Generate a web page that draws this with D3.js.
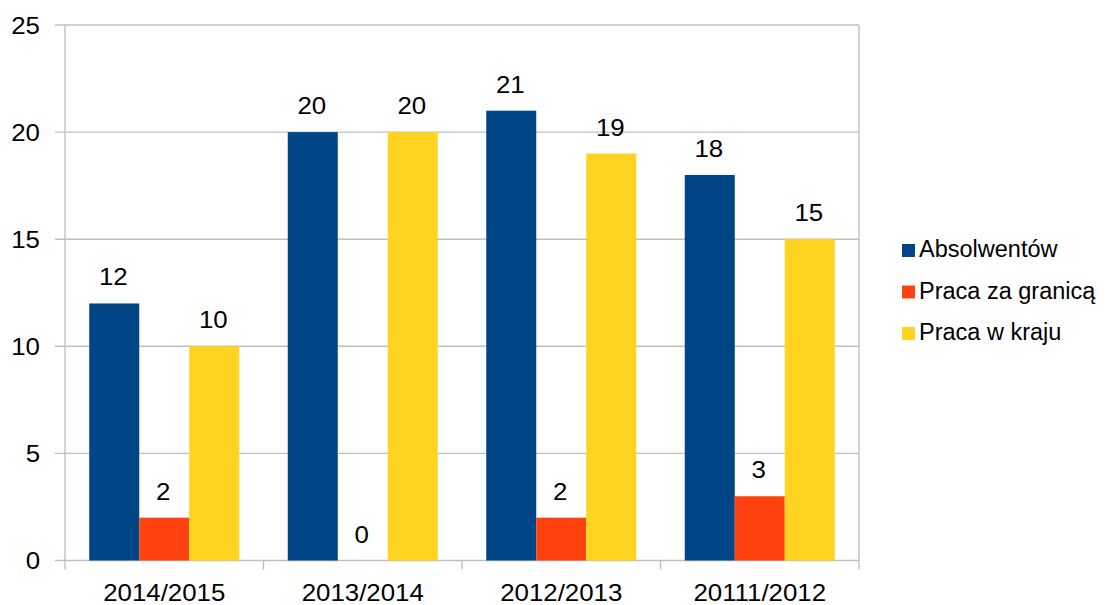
<!DOCTYPE html>
<html lang="pl">
<head>
<meta charset="UTF-8">
<title>Absolwenci</title>
<script src="https://d3js.org/d3.v7.min.js"></script>
<style>
  body { margin: 0; background: #fff; }
  text { font-family: "Liberation Sans", Arial, sans-serif; fill: #000; }
</style>
</head>
<body>
<div id="chart"></div>
<script>
// data
var years = ["2014/2015", "2013/2014", "2012/2013", "20111/2012"];
var seriesNames = ["Absolwentów", "Praca za granicą", "Praca w kraju"];
var absolwentow = [12, 20, 21, 18];
var zaGranica = [2, 0, 2, 3];
var wKraju = [10, 20, 19, 15];
var yTicks = [0, 5, 10, 15, 20, 25];
var colors = ["#004586", "#ff420e", "#ffd320"];

var seriesValues = [absolwentow, zaGranica, wKraju];
var W = 1105, H = 605;
var plot = {left: 65, right: 859, top: 25, bottom: 560.5};
var stretch = 1.1; // text in the picture is a bit wide

var svg = d3.select("#chart").append("svg")
    .attr("width", W).attr("height", H);

var x0 = d3.scaleBand().domain(years).range([plot.left, plot.right]).padding(0);
var gap = (x0.bandwidth() - 150) / 2;
var x1 = d3.scaleBand().domain(d3.range(seriesNames.length))
    .range([gap, x0.bandwidth() - gap]).padding(0);
var y = d3.scaleLinear().domain([0, 25]).range([plot.bottom, plot.top]);

// grid lines
svg.append("g").selectAll("line").data(yTicks).enter().append("line")
    .attr("x1", plot.left - 10).attr("x2", plot.right)
    .attr("y1", function (d) { return y(d); })
    .attr("y2", function (d) { return y(d); })
    .attr("stroke", "#c0c0c0").attr("stroke-width", 1.4);

// left and right border
[plot.left, plot.right].forEach(function (xx) {
    svg.append("line")
        .attr("x1", xx).attr("x2", xx)
        .attr("y1", plot.top).attr("y2", plot.bottom + 9)
        .attr("stroke", "#c0c0c0").attr("stroke-width", 1.4);
});

// category ticks under axis
svg.append("g").selectAll("line").data(years.slice(1)).enter().append("line")
    .attr("x1", function (d) { return x0(d); })
    .attr("x2", function (d) { return x0(d); })
    .attr("y1", plot.bottom).attr("y2", plot.bottom + 9)
    .attr("stroke", "#c0c0c0").attr("stroke-width", 1.4);

function wideText(g, x, y, str, anchor) {
    g.append("text")
        .attr("transform", "translate(" + x + "," + y + ") scale(" + stretch + ",1)")
        .attr("text-anchor", anchor)
        .style("font-size", "23.5px")
        .text(str);
}

// y labels
var yl = svg.append("g");
yTicks.forEach(function (t) { wideText(yl, 40, y(t) + 8.5, String(t), "end"); });

// x labels
var xl = svg.append("g");
years.forEach(function (c) { wideText(xl, x0(c) + x0.bandwidth() / 2, 601, c, "middle"); });

// bars
var groups = svg.append("g").selectAll("g").data(years).enter().append("g")
    .attr("transform", function (d) { return "translate(" + x0(d) + ",0)"; });

groups.selectAll("rect")
    .data(function (d, i) { return seriesValues.map(function (s, k) { return {k: k, v: s[i]}; }); })
    .enter().append("rect")
    .attr("x", function (d) { return x1(d.k); })
    .attr("width", x1.bandwidth())
    .attr("y", function (d) { return y(d.v); })
    .attr("height", function (d) { return y(0) - y(d.v); })
    .attr("fill", function (d) { return colors[d.k]; });

groups.each(function (c, i) {
    var g = d3.select(this);
    seriesValues.forEach(function (s, k) {
        wideText(g, x1(k) + x1.bandwidth() / 2 - 1, y(s[i]) - 18, String(s[i]), "middle");
    });
});

// legend
var legend = svg.append("g");
seriesNames.forEach(function (n, k) {
    var ly = 257 + k * 41.5;
    legend.append("rect")
        .attr("x", 902).attr("y", ly - 13).attr("width", 13).attr("height", 13)
        .attr("fill", colors[k]);
    legend.append("text")
        .attr("x", 919).attr("y", ly)
        .style("font-size", "23.5px")
        .text(n);
});
</script>
</body>
</html>
